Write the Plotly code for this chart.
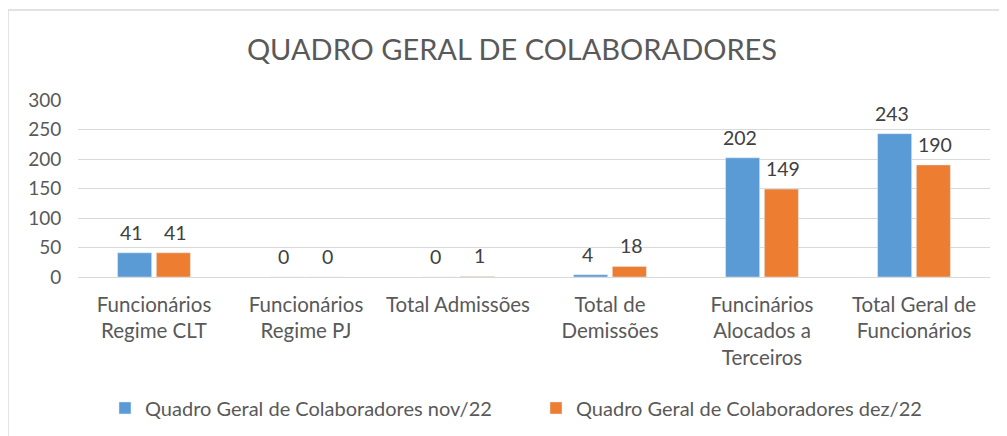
import plotly.graph_objects as go

categories = ["Funcionários<br>Regime CLT", "Funcionários<br>Regime PJ", "Total Admissões",
              "Total de<br>Demissões", "Funcinários<br>Alocados a<br>Terceiros", "Total Geral de<br>Funcionários"]
nov22 = [41, 0, 0, 4, 202, 243]
dez22 = [41, 0, 1, 18, 149, 190]
series_names = ["Quadro Geral de Colaboradores nov/22", "Quadro Geral de Colaboradores dez/22"]
y_ticks = [0, 50, 100, 150, 200, 250, 300]

FONT = "Lato, 'Open Sans', sans-serif"
colors = ["#5B9BD5", "#ED7D31"]
offsets = [-0.145, 0.14]

# The page body has an 8px default margin, so the figure is sized/offset to compensate.
fig = go.Figure()
annotations = []
for name, vals, col, off in [(series_names[0], nov22, colors[0], offsets[0]),
                             (series_names[1], dez22, colors[1], offsets[1])]:
    fig.add_trace(go.Bar(x=categories, y=vals, name=name, marker_color=col))
    for i, v in enumerate(vals):
        annotations.append(dict(x=i + off, y=v, xref="x", yref="y", text=str(v), showarrow=False,
                                yanchor="bottom", yshift=7,
                                font=dict(size=19.5, color="#404040", family=FONT)))

fig.update_layout(
    width=999, height=428,
    margin=dict(l=70, r=17, t=92, b=159, autoexpand=False),
    paper_bgcolor="white", plot_bgcolor="white",
    barmode="group", bargap=0.49, bargroupgap=0.12,
    title=dict(text="QUADRO GERAL DE COLABORADORES", x=0.5045, xanchor="center", y=0.902, yanchor="middle",
               font=dict(size=29, color="#595959", family=FONT)),
    font=dict(family=FONT, color="#595959", size=20),
    showlegend=True,
    legend=dict(orientation="h", x=0.0296, xanchor="left", y=-0.74, yanchor="middle",
                font=dict(size=20, color="#595959"), itemwidth=30, traceorder="normal",
                entrywidth=386, entrywidthmode="pixels"),
    xaxis=dict(tickfont=dict(size=20.5, color="#595959"), showline=True, linecolor="#D9D9D9",
               ticks="outside", ticklen=9, tickcolor="rgba(0,0,0,0)", showgrid=False, automargin=False),
    yaxis=dict(range=[0, 300], tickvals=y_ticks, ticktext=[str(t) for t in y_ticks],
               showgrid=True, gridcolor="#D9D9D9", zeroline=False, showline=False, automargin=False,
               tickfont=dict(size=19, color="#595959"), ticks="outside", ticklen=12,
               tickcolor="rgba(0,0,0,0)"),
    annotations=annotations,
    shapes=[dict(type="rect", xref="paper", yref="paper", x0=-0.0768, x1=1.03, y0=-1.2, y1=1.508,
                 line=dict(color="#D9D9D9", width=1.5), fillcolor="rgba(0,0,0,0)", layer="below")],
)
fig.write_html("out.html")
